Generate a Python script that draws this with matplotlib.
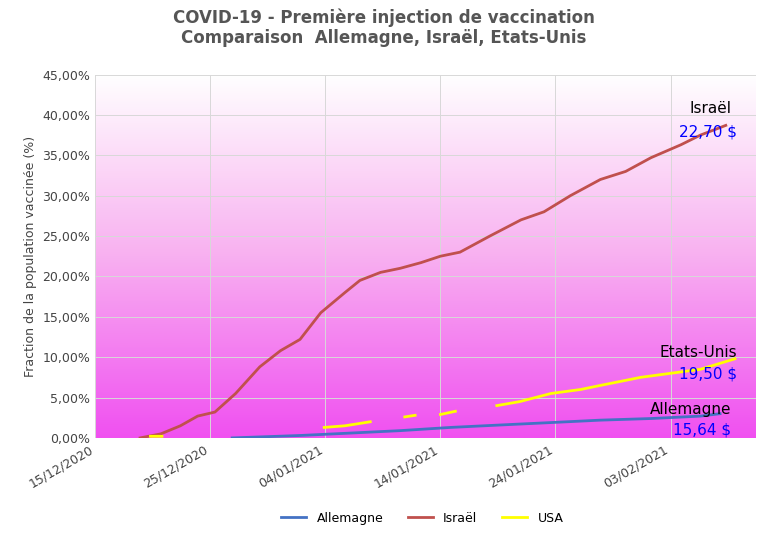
import numpy as np
import matplotlib
matplotlib.use("Agg")
import matplotlib.pyplot as plt
import matplotlib.dates as mdates
from matplotlib.colors import LinearSegmentedColormap
import datetime as dt

start = dt.datetime(2020, 12, 15)

# day offsets from 15/12/2020, values in %
israel_days = [3.9, 5.7, 7.4, 8.9, 10.4, 12.2, 14.3, 16.1, 17.8, 19.6, 21.7, 23.0, 24.8,
               26.5, 28.3, 30.0, 31.7, 34.3, 37.0, 39.0, 41.3, 43.9, 46.1, 48.3, 50.9, 52.6, 54.8]
israel_vals = [0.0, 0.5, 1.5, 2.7, 3.2, 5.5, 8.8, 10.8, 12.2, 15.5, 18.0, 19.5, 20.5,
               21.0, 21.7, 22.5, 23.0, 25.0, 27.0, 28.0, 30.0, 32.0, 33.0, 34.7, 36.3, 37.5, 38.7]

usa_days = [4.8, 5.8, 6.5, 19.9, 21.7, 23.9, 25.0, 26.9, 27.8, 29.0, 30.0, 31.3, 33.0,
            34.9, 36.9, 39.6, 42.2, 43.9, 47.4, 50.0, 52.6, 55.6]
usa_vals = [0.2, 0.2, np.nan, 1.3, 1.5, 2.0, np.nan, 2.6, 2.8, np.nan, 2.9, 3.3, np.nan,
            4.0, 4.5, 5.5, 6.0, 6.5, 7.5, 8.0, 8.5, 9.8]

de_days = [11.9, 17.8, 22.2, 26.5, 30.9, 35.2, 39.6, 43.9, 48.3, 52.6, 54.3]
de_vals = [0.0, 0.3, 0.6, 0.9, 1.3, 1.6, 1.9, 2.2, 2.4, 2.7, 3.0]

def to_dates(days):
    return [start + dt.timedelta(days=d) for d in days]

def dnum(d):
    return mdates.date2num(start + dt.timedelta(days=d))

fig = plt.figure(figsize=(7.68, 5.36), dpi=100)
ax = fig.add_axes([0.124, 0.183, 0.86, 0.678])

x0 = dnum(0)
x1 = dnum(57.4)
cmap = LinearSegmentedColormap.from_list("bg", ["#ffffff", "#f8b0f0", "#f050f0"])
grad = np.linspace(0, 1, 256).reshape(-1, 1)
ax.imshow(grad, aspect="auto", cmap=cmap, extent=[x0, x1, 0, 45], origin="upper", zorder=0)

ax.plot(to_dates(de_days), de_vals, color="#4472c4", lw=2, label="Allemagne", zorder=3)
ax.plot(to_dates(israel_days), israel_vals, color="#c0504d", lw=2, label="Israël", zorder=3)
ax.plot(to_dates(usa_days), usa_vals, color="#ffff00", lw=2, label="USA", zorder=3)

ax.set_xlim(x0, x1)
ax.set_ylim(0, 45)
ax.set_yticks(np.arange(0, 46, 5))
ax.set_yticklabels([f"{v:.2f}%".replace(".", ",") for v in np.arange(0, 46, 5)], fontsize=9, color="#444")
ticks = [start + dt.timedelta(days=10 * i) for i in range(6)]
ax.set_xticks(ticks)
ax.set_xticklabels([t.strftime("%d/%m/%Y") for t in ticks], rotation=30, ha="right", fontsize=9, color="#444")
ax.grid(color="#d8d8d8", lw=0.7, zorder=1)
ax.set_axisbelow(False)
for s in ax.spines.values():
    s.set_visible(False)
ax.tick_params(length=0)
ax.set_ylabel("Fraction de la population vaccinée (%)", fontsize=9, color="#444")

ax.text(dnum(55.3), 40.2, "Israël", ha="right", fontsize=11)
ax.text(dnum(55.8), 37.3, "22,70 $", ha="right", fontsize=11, color="#0000ff")
ax.text(dnum(55.8), 10.0, "Etats-Unis", ha="right", fontsize=11)
ax.text(dnum(55.8), 7.3, "19,50 $", ha="right", fontsize=11, color="#0000ff")
ax.text(dnum(55.3), 3.0, "Allemagne", ha="right", fontsize=11)
ax.text(dnum(55.3), 0.4, "15,64 $", ha="right", fontsize=11, color="#0000ff")

fig.suptitle("COVID-19 - Première injection de vaccination\nComparaison  Allemagne, Israël, Etats-Unis",
             y=0.985, fontsize=12, fontweight="bold", color="#555555")
fig.legend(loc="lower center", ncol=3, frameon=False, fontsize=9, bbox_to_anchor=(0.55, 0.0))
fig.savefig("out.png", dpi=100)
